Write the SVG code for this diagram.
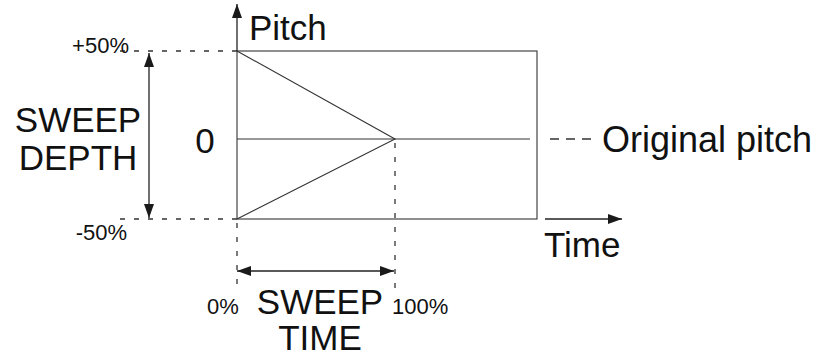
<svg xmlns="http://www.w3.org/2000/svg" width="822" height="356" viewBox="0 0 822 356">
<style>
text{font-family:"Liberation Sans",Arial,sans-serif;fill:#111}
.big{font-size:35px}
.small{font-size:22px}
.ln{stroke:#333;stroke-width:1.1;fill:none}
.dash{stroke:#333;stroke-width:1.3;stroke-dasharray:5 9;fill:none}
.dash3{stroke:#333;stroke-width:1.3;stroke-dasharray:9 7;fill:none}
.arr{stroke:#222;stroke-width:1.3;fill:none}
</style>
<defs>
<marker id="ah" markerUnits="userSpaceOnUse" markerWidth="14" markerHeight="10" refX="14" refY="5" orient="auto-start-reverse">
<path d="M0,0 L14,5 L0,10 z" fill="#1a1a1a"/>
</marker>
</defs>
<g id="plot-box">
<rect x="237" y="51" width="300" height="168" class="ln"/>
<line x1="237" y1="139" x2="530" y2="139" class="ln"/>
<polyline points="237,51 395,139 237,219" class="ln"/>
</g>
<g id="guides">
<line x1="120" y1="51" x2="237" y2="51" class="dash"/>
<line x1="120" y1="219" x2="237" y2="219" class="dash"/>
<line x1="237" y1="223" x2="237" y2="292" class="dash"/>
<line x1="395" y1="143" x2="395" y2="292" class="dash"/>
<line x1="550" y1="139" x2="593" y2="139" class="dash3"/>
</g>
<g id="connectors">
<line x1="237" y1="51" x2="237" y2="4" class="arr" marker-end="url(#ah)"/>
<line x1="545" y1="219" x2="622" y2="219" class="arr" marker-end="url(#ah)"/>
<line x1="149" y1="53" x2="149" y2="218" class="arr" marker-start="url(#ah)" marker-end="url(#ah)"/>
<line x1="237" y1="271" x2="394" y2="271" class="arr" marker-start="url(#ah)" marker-end="url(#ah)"/>
</g>
<g id="pitch-label"><text x="249" y="40" class="big">Pitch</text></g>
<g id="time-label"><text x="544" y="257" class="big">Time</text></g>
<g id="plus50"><text x="129" y="53" class="small" text-anchor="end">+50%</text></g>
<g id="minus50"><text x="127" y="240" class="small" text-anchor="end">-50%</text></g>
<g id="zero-label"><text x="205" y="153" class="big" text-anchor="middle">0</text></g>
<g id="sweep-depth"><text x="78" y="132" class="big" text-anchor="middle">SWEEP</text><text x="78" y="170" class="big" text-anchor="middle">DEPTH</text></g>
<g id="original-pitch"><text x="602" y="152" style="font-size:36px">Original pitch</text></g>
<g id="sweep-time"><text x="320" y="314" class="big" text-anchor="middle">SWEEP</text><text x="320" y="350" class="big" text-anchor="middle">TIME</text></g>
<g id="pct0"><text x="207" y="314" class="small">0%</text></g>
<g id="pct100"><text x="392" y="314" class="small">100%</text></g>
</svg>
